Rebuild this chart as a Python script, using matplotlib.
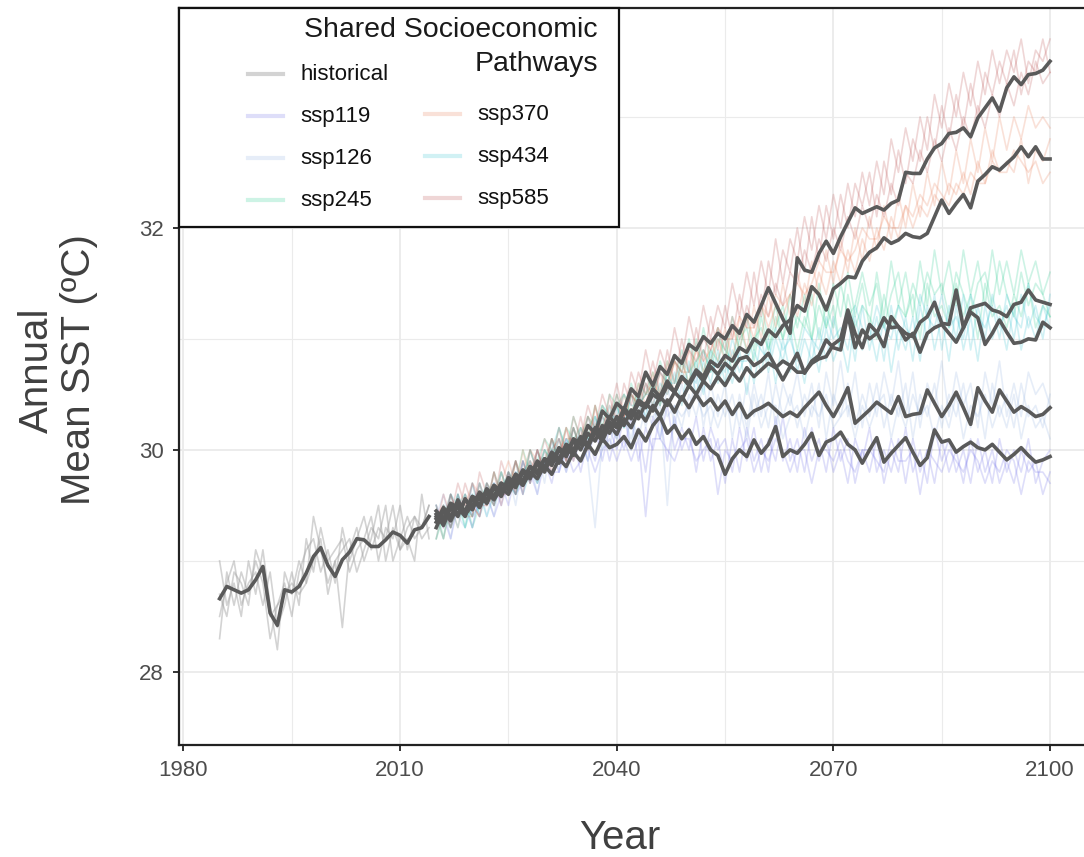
import numpy as np
import matplotlib
matplotlib.use("Agg")
from matplotlib import pyplot as plt
from matplotlib.patches import Rectangle

plt.rcParams['font.family'] = ['Liberation Sans', 'DejaVu Sans']

W, H = 1084, 857

hist_years = np.arange(1985, 2015)
ssp_years = np.arange(2015, 2101)

scenarios = ['ssp119', 'ssp126', 'ssp245', 'ssp370', 'ssp434', 'ssp585']
colors = {'historical': '#9E9E9E', 'ssp119': '#6A6AE8', 'ssp126': '#8FB0E0',
          'ssp245': '#1DC98A', 'ssp370': '#E87850', 'ssp434': '#30C0D0',
          'ssp585': '#B84848'}

# ensemble mean, historical
hist_mean = [28.66, 28.77, 28.74, 28.71, 28.74, 28.83, 28.95, 28.53, 28.42, 28.74,
             28.72, 28.77, 28.89, 29.04, 29.12, 28.96, 28.86, 29.01, 29.08, 29.20,
             29.19, 29.13, 29.13, 29.19, 29.26, 29.23, 29.16, 29.28, 29.30, 29.40]

# individual historical runs
hist_runs = [
    [28.3, 28.9, 28.6, 28.9, 28.7, 29.0, 28.8, 28.3, 28.6, 28.8, 28.5, 28.9, 29.1, 29.2, 28.9,
     29.1, 28.8, 29.3, 29.0, 29.2, 29.4, 29.1, 29.3, 29.2, 29.5, 29.1, 29.3, 29.4, 29.2, 29.3],
    [29.0, 28.6, 28.8, 28.5, 29.0, 28.7, 29.1, 28.6, 28.2, 28.9, 28.7, 29.0, 28.8, 29.4, 29.1,
     28.8, 29.0, 28.4, 29.1, 29.3, 29.0, 29.2, 29.5, 29.0, 29.3, 29.1, 29.2, 29.0, 29.6, 29.2],
    [28.5, 28.8, 29.0, 28.6, 28.8, 28.9, 28.6, 28.9, 28.4, 28.6, 28.9, 28.6, 29.2, 28.9, 29.3,
     29.0, 29.1, 29.2, 28.9, 29.1, 29.2, 29.4, 29.0, 29.3, 29.2, 29.5, 29.1, 29.4, 29.3, 29.5],
    [28.7, 28.5, 28.9, 28.8, 28.6, 29.1, 28.9, 28.5, 28.6, 28.7, 28.8, 28.7, 28.8, 29.0, 29.2,
     28.7, 29.0, 29.1, 29.2, 28.9, 29.1, 29.3, 29.2, 29.5, 29.0, 29.2, 29.4, 29.2, 29.3, 29.5],
]

# ensemble means 2015-2100
ssp_mean = {
    'ssp119': [29.38, 29.45, 29.36, 29.50, 29.44, 29.56, 29.48, 29.62, 29.55, 29.66,
               29.60, 29.74, 29.68, 29.80, 29.74, 29.86, 29.78, 29.92, 29.85, 29.98,
               29.90, 30.05, 29.96, 30.10, 30.02, 30.05, 30.12, 30.02, 30.18, 30.08,
               30.22, 30.30, 30.15, 30.22, 30.10, 30.18, 30.05, 30.12, 30.00, 29.95,
               29.78, 29.92, 30.00, 29.94, 30.09, 29.97, 30.05, 30.21, 29.94, 30.00,
               29.97, 30.05, 30.15, 29.95, 30.07, 30.10, 30.16, 30.05, 30.00, 29.88,
               30.00, 30.11, 29.89, 29.97, 30.04, 30.11, 29.98, 29.86, 29.93, 30.18,
               30.07, 30.09, 29.98, 30.03, 30.07, 30.02, 30.00, 30.05, 29.98, 29.91,
               29.96, 30.02, 29.95, 29.89, 29.91, 29.94],
    'ssp126': [29.42, 29.32, 29.48, 29.40, 29.56, 29.46, 29.60, 29.52, 29.66, 29.58,
               29.72, 29.66, 29.80, 29.74, 29.88, 29.80, 29.95, 29.88, 30.02, 29.95,
               30.10, 30.02, 30.16, 30.08, 30.22, 30.14, 30.28, 30.20, 30.35, 30.26,
               30.40, 30.30, 30.45, 30.34, 30.48, 30.38, 30.50, 30.40, 30.46, 30.36,
               30.44, 30.32, 30.42, 30.29, 30.35, 30.38, 30.42, 30.36, 30.30, 30.34,
               30.30, 30.38, 30.45, 30.52, 30.40, 30.30, 30.42, 30.56, 30.24, 30.30,
               30.36, 30.43, 30.38, 30.33, 30.48, 30.30, 30.32, 30.33, 30.54, 30.42,
               30.30, 30.40, 30.52, 30.38, 30.23, 30.56, 30.44, 30.34, 30.54, 30.44,
               30.34, 30.39, 30.35, 30.30, 30.32, 30.38],
    'ssp245': [29.40, 29.35, 29.50, 29.42, 29.55, 29.48, 29.62, 29.55, 29.68, 29.60,
               29.75, 29.70, 29.82, 29.76, 29.90, 29.84, 29.98, 29.92, 30.05, 30.00,
               30.12, 30.05, 30.20, 30.15, 30.30, 30.22, 30.38, 30.30, 30.45, 30.40,
               30.55, 30.48, 30.62, 30.52, 30.66, 30.58, 30.70, 30.62, 30.75, 30.68,
               30.78, 30.72, 30.82, 30.84, 30.76, 30.80, 30.87, 30.75, 30.63, 30.75,
               30.87, 30.69, 30.80, 30.85, 30.99, 30.92, 30.90, 31.22, 30.92, 31.08,
               31.00, 31.05, 31.19, 31.10, 31.11, 31.05, 31.02, 31.15, 31.20, 31.33,
               31.14, 31.13, 31.44, 31.10, 31.28, 31.30, 31.32, 31.26, 31.24, 31.20,
               31.31, 31.33, 31.44, 31.35, 31.33, 31.31],
    'ssp370': [29.30, 29.45, 29.38, 29.55, 29.42, 29.50, 29.60, 29.52, 29.68, 29.62,
               29.72, 29.68, 29.80, 29.75, 29.88, 29.82, 29.95, 29.90, 30.02, 29.98,
               30.10, 30.05, 30.18, 30.12, 30.25, 30.20, 30.35, 30.28, 30.42, 30.38,
               30.50, 30.45, 30.58, 30.52, 30.65, 30.60, 30.72, 30.66, 30.80, 30.75,
               30.85, 30.80, 30.92, 30.88, 31.00, 30.95, 31.08, 31.02, 31.12, 31.17,
               31.30, 31.25, 31.47, 31.40, 31.26, 31.45, 31.50, 31.56, 31.55, 31.70,
               31.78, 31.82, 31.91, 31.86, 31.89, 31.95, 31.92, 31.91, 31.95, 32.10,
               32.25, 32.13, 32.22, 32.30, 32.18, 32.42, 32.48, 32.55, 32.52, 32.58,
               32.64, 32.73, 32.64, 32.73, 32.62, 32.62],
    'ssp434': [29.35, 29.48, 29.40, 29.52, 29.45, 29.58, 29.50, 29.65, 29.58, 29.70,
               29.64, 29.78, 29.72, 29.85, 29.78, 29.92, 29.86, 30.00, 29.94, 30.08,
               30.00, 30.15, 30.08, 30.22, 30.15, 30.30, 30.22, 30.36, 30.28, 30.42,
               30.35, 30.48, 30.40, 30.52, 30.45, 30.58, 30.50, 30.62, 30.55, 30.66,
               30.58, 30.70, 30.62, 30.74, 30.66, 30.72, 30.78, 30.74, 30.80, 30.76,
               30.70, 30.70, 30.78, 30.82, 30.84, 30.95, 31.00, 31.26, 31.05, 30.92,
               31.13, 31.06, 30.93, 31.20, 31.11, 30.99, 31.05, 30.88, 31.05, 31.10,
               31.13, 31.05, 30.97, 31.10, 31.24, 31.19, 30.95, 31.05, 31.17, 31.06,
               30.96, 30.97, 31.00, 30.99, 31.15, 31.10],
    'ssp585': [29.45, 29.38, 29.52, 29.48, 29.40, 29.58, 29.55, 29.62, 29.58, 29.70,
               29.66, 29.78, 29.72, 29.85, 29.80, 29.92, 29.88, 30.02, 29.95, 30.10,
               30.05, 30.22, 30.15, 30.35, 30.28, 30.42, 30.36, 30.55, 30.48, 30.70,
               30.58, 30.75, 30.68, 30.85, 30.78, 30.95, 30.90, 31.02, 30.96, 31.05,
               31.00, 31.12, 31.05, 31.22, 31.15, 31.30, 31.46, 31.32, 31.18, 31.05,
               31.73, 31.62, 31.60, 31.77, 31.88, 31.77, 31.92, 32.05, 32.18, 32.13,
               32.16, 32.19, 32.16, 32.22, 32.25, 32.50, 32.49, 32.49, 32.62, 32.72,
               32.76, 32.85, 32.86, 32.90, 32.82, 32.99, 33.08, 33.17, 33.05, 33.26,
               33.36, 33.29, 33.38, 33.39, 33.42, 33.50],
}

# individual model runs 2015-2100
ssp_runs = {
    'ssp119': [
        [29.3, 29.5, 29.3, 29.6, 29.4, 29.6, 29.4, 29.7, 29.5, 29.7, 29.5, 29.8, 29.6, 29.9, 29.7,
         29.9, 29.7, 30.0, 29.8, 30.1, 29.8, 30.1, 29.9, 30.2, 29.9, 30.2, 30.0, 30.3, 29.9, 30.2,
         30.0, 30.3, 29.9, 30.3, 30.0, 30.2, 29.8, 30.2, 29.9, 30.1, 29.7, 30.1, 29.8, 30.2, 29.9,
         30.1, 29.8, 30.3, 29.9, 30.1, 29.8, 30.2, 29.9, 30.1, 29.8, 30.2, 29.9, 30.1, 29.7, 30.0,
         29.8, 30.1, 29.7, 30.0, 29.8, 30.2, 29.8, 30.0, 29.7, 30.2, 29.9, 30.1, 29.8, 30.0, 29.7,
         30.1, 29.8, 30.0, 29.7, 29.9, 29.7, 30.0, 29.8, 29.9, 29.6, 29.8],
        [29.5, 29.3, 29.6, 29.4, 29.6, 29.4, 29.7, 29.5, 29.7, 29.5, 29.8, 29.6, 29.9, 29.7, 29.9,
         29.8, 30.0, 29.8, 30.1, 29.9, 30.1, 29.9, 30.2, 29.9, 30.2, 30.0, 30.3, 30.0, 30.2, 29.8,
         30.3, 30.1, 30.4, 30.0, 30.2, 30.0, 30.3, 29.9, 30.2, 30.0, 30.1, 29.8, 30.2, 29.9, 30.2,
         29.8, 30.1, 29.9, 30.3, 29.9, 30.1, 29.8, 30.2, 29.9, 30.1, 29.8, 30.0, 29.7, 30.1, 29.9,
         30.2, 29.8, 30.0, 29.8, 30.1, 29.7, 30.1, 29.8, 30.0, 29.7, 30.1, 29.8, 30.0, 29.7, 30.1,
         29.8, 30.0, 29.7, 30.1, 29.8, 30.0, 29.8, 30.1, 29.7, 29.9, 30.0],
        [29.4, 29.4, 29.2, 29.5, 29.5, 29.3, 29.6, 29.6, 29.4, 29.6, 29.7, 29.6, 29.7, 29.8, 29.6,
         29.9, 29.8, 29.8, 30.0, 29.8, 29.9, 30.0, 29.8, 30.0, 30.1, 29.9, 30.1, 29.9, 30.1, 29.4,
         30.1, 30.1, 30.0, 29.9, 30.1, 30.1, 29.9, 30.0, 30.1, 29.6, 30.0, 29.9, 30.0, 30.1, 29.8,
         30.0, 29.9, 30.1, 30.0, 29.8, 30.0, 30.0, 29.7, 30.0, 30.0, 29.9, 30.1, 29.9, 29.8, 30.0,
         30.0, 29.9, 29.8, 30.1, 29.9, 29.9, 30.0, 29.6, 30.0, 29.9, 29.8, 30.0, 29.9, 29.8, 30.0,
         29.9, 29.7, 29.9, 29.8, 30.0, 29.9, 29.6, 29.9, 29.8, 29.8, 29.7],
    ],
    'ssp126': [
        [29.3, 29.5, 29.2, 29.6, 29.4, 29.5, 29.7, 29.4, 29.7, 29.6, 29.8, 29.5, 29.9, 29.7, 30.0,
         29.7, 30.1, 29.8, 30.1, 29.9, 30.2, 29.9, 30.3, 30.0, 30.3, 30.1, 30.4, 30.0, 30.5, 30.2,
         30.5, 30.1, 30.6, 30.2, 30.6, 30.3, 30.7, 30.2, 30.6, 30.3, 30.6, 30.1, 30.5, 30.2, 30.6,
         30.3, 30.7, 30.2, 30.6, 30.4, 30.7, 30.3, 30.6, 30.2, 30.7, 30.4, 30.8, 30.3, 30.7, 30.2,
         30.6, 30.3, 30.7, 30.4, 30.8, 30.3, 30.7, 30.2, 30.6, 30.4, 30.8, 30.3, 30.7, 30.4, 30.6,
         30.2, 30.7, 30.4, 30.8, 30.3, 30.6, 30.3, 30.7, 30.5, 30.6, 30.4],
        [29.5, 29.3, 29.6, 29.4, 29.3, 29.7, 29.5, 29.6, 29.4, 29.8, 29.6, 29.8, 29.7, 29.9, 29.6,
         30.0, 29.8, 30.0, 29.9, 30.2, 30.0, 30.2, 30.1, 30.3, 30.0, 30.4, 30.2, 30.3, 30.1, 30.4,
         30.2, 30.5, 30.3, 30.4, 30.2, 30.5, 30.3, 30.6, 30.2, 30.5, 30.3, 30.5, 30.2, 30.6, 30.3,
         30.5, 30.2, 30.6, 30.3, 30.5, 30.2, 30.5, 30.3, 30.6, 30.1, 30.5, 30.3, 30.6, 30.2, 30.5,
         30.3, 30.6, 30.2, 30.5, 30.3, 30.6, 30.1, 30.5, 30.3, 30.6, 30.2, 30.5, 30.3, 30.6, 30.2,
         30.5, 30.1, 30.6, 30.3, 30.5, 30.2, 30.6, 30.3, 30.4, 30.2, 30.5],
        [29.4, 29.6, 29.3, 29.5, 29.5, 29.3, 29.6, 29.5, 29.8, 29.5, 29.7, 29.6, 29.8, 29.8, 29.7,
         29.9, 29.9, 30.1, 29.8, 30.0, 30.1, 29.9, 29.3, 30.1, 30.2, 30.1, 30.3, 30.1, 30.4, 30.3,
         30.3, 30.4, 29.5, 30.4, 30.3, 30.4, 30.5, 30.3, 30.4, 30.2, 30.4, 30.3, 30.4, 30.1, 30.5,
         30.2, 30.4, 30.4, 30.1, 30.3, 30.4, 30.1, 30.4, 30.3, 30.5, 30.2, 30.3, 30.4, 30.1, 30.4,
         30.2, 30.4, 30.5, 30.1, 30.4, 30.2, 30.5, 30.3, 30.4, 30.1, 30.4, 30.2, 30.5, 30.1, 30.4,
         30.3, 30.5, 30.2, 30.4, 30.2, 30.5, 30.1, 30.4, 30.2, 30.3, 30.1],
    ],
    'ssp245': [
        [29.3, 29.5, 29.4, 29.6, 29.3, 29.6, 29.5, 29.7, 29.6, 29.8, 29.6, 29.9, 29.7, 30.0, 29.8,
         30.0, 29.9, 30.2, 30.0, 30.3, 30.1, 30.3, 30.2, 30.4, 30.3, 30.5, 30.3, 30.6, 30.4, 30.7,
         30.5, 30.8, 30.6, 30.8, 30.7, 31.0, 30.7, 31.1, 30.8, 31.1, 30.8, 31.2, 30.9, 31.2, 30.9,
         31.3, 31.0, 31.3, 31.0, 31.4, 31.1, 31.4, 31.0, 31.5, 31.1, 31.5, 31.2, 31.6, 31.2, 31.5,
         31.1, 31.6, 31.2, 31.7, 31.3, 31.6, 31.2, 31.7, 31.3, 31.8, 31.4, 31.7, 31.3, 31.8, 31.4,
         31.7, 31.3, 31.8, 31.4, 31.7, 31.4, 31.8, 31.5, 31.7, 31.4, 31.6],
        [29.5, 29.2, 29.6, 29.4, 29.5, 29.4, 29.7, 29.5, 29.8, 29.6, 29.8, 29.7, 30.0, 29.8, 29.9,
         30.1, 30.0, 30.0, 30.2, 30.1, 30.2, 30.1, 30.4, 30.2, 30.5, 30.4, 30.5, 30.3, 30.6, 30.5,
         30.7, 30.5, 30.8, 30.6, 30.9, 30.7, 30.8, 30.9, 30.7, 31.0, 30.9, 30.8, 31.1, 30.9, 31.0,
         31.1, 30.9, 31.2, 31.0, 31.2, 30.9, 31.2, 31.0, 31.3, 31.1, 31.3, 30.9, 31.4, 31.1, 31.3,
         31.2, 31.0, 31.4, 31.1, 31.3, 31.2, 31.4, 31.0, 31.5, 31.2, 31.3, 31.1, 31.5, 31.2, 31.4,
         31.0, 31.5, 31.2, 31.3, 31.1, 31.4, 31.2, 31.5, 31.1, 31.3, 31.2],
        [29.2, 29.4, 29.3, 29.5, 29.6, 29.3, 29.5, 29.6, 29.5, 29.7, 29.7, 29.6, 29.8, 29.9, 29.7,
         29.9, 30.1, 29.9, 30.0, 30.2, 30.0, 30.2, 30.3, 30.1, 30.3, 30.4, 30.2, 30.5, 30.4, 30.5,
         30.6, 30.4, 30.7, 30.5, 30.8, 30.6, 31.0, 30.7, 30.9, 30.8, 31.0, 30.7, 31.0, 31.1, 30.8,
         31.2, 30.9, 31.1, 31.3, 31.0, 31.2, 31.1, 31.4, 31.0, 31.3, 31.1, 31.5, 31.2, 31.3, 31.6,
         31.3, 31.5, 31.1, 31.4, 31.6, 31.2, 31.5, 31.3, 31.6, 31.4, 31.5, 31.2, 31.6, 31.4, 31.2,
         31.5, 31.6, 31.3, 31.7, 31.4, 31.2, 31.6, 31.3, 31.5, 31.4, 31.2],
    ],
    'ssp370': [
        [29.2, 29.5, 29.3, 29.6, 29.4, 29.4, 29.7, 29.5, 29.8, 29.5, 29.8, 29.6, 30.0, 29.7, 30.0,
         29.8, 30.1, 29.9, 30.2, 29.9, 30.2, 30.0, 30.4, 30.1, 30.3, 30.2, 30.5, 30.3, 30.6, 30.4,
         30.7, 30.4, 30.8, 30.5, 30.8, 30.6, 30.9, 30.7, 31.0, 30.8, 31.1, 30.8, 31.2, 30.9, 31.3,
         31.0, 31.4, 31.1, 31.5, 31.2, 31.6, 31.3, 31.7, 31.4, 31.8, 31.5, 31.9, 31.6, 32.0, 31.7,
         32.1, 31.8, 32.2, 31.9, 32.3, 32.0, 32.4, 32.1, 32.5, 32.2, 32.6, 32.3, 32.7, 32.4, 32.8,
         32.5, 32.9, 32.6, 33.0, 32.7, 33.0, 32.8, 33.1, 32.9, 33.0, 32.9],
        [29.4, 29.2, 29.5, 29.3, 29.6, 29.5, 29.4, 29.7, 29.5, 29.8, 29.6, 29.9, 29.7, 29.9, 29.8,
         30.0, 29.8, 30.1, 29.9, 30.2, 30.0, 30.2, 30.1, 30.4, 30.2, 30.4, 30.3, 30.5, 30.3, 30.6,
         30.4, 30.7, 30.5, 30.8, 30.6, 30.9, 30.7, 30.9, 30.8, 31.0, 30.8, 31.1, 30.9, 31.2, 31.0,
         31.3, 31.1, 31.3, 31.2, 31.4, 31.2, 31.5, 31.3, 31.6, 31.4, 31.7, 31.5, 31.8, 31.6, 31.9,
         31.7, 32.0, 31.8, 32.1, 31.9, 32.2, 32.0, 32.2, 32.1, 32.3, 32.2, 32.4, 32.3, 32.5, 32.3,
         32.6, 32.4, 32.7, 32.5, 32.6, 32.5, 32.8, 32.4, 32.7, 32.6, 32.8],
        [29.3, 29.4, 29.6, 29.4, 29.5, 29.7, 29.6, 29.5, 29.6, 29.7, 29.9, 29.7, 29.8, 30.0, 29.9,
         29.9, 30.1, 30.0, 30.1, 30.1, 30.1, 30.3, 30.2, 30.2, 30.4, 30.3, 30.3, 30.5, 30.4, 30.5,
         30.6, 30.5, 30.6, 30.8, 30.7, 30.7, 30.9, 30.8, 30.9, 31.1, 31.0, 31.0, 31.2, 31.1, 31.1,
         31.3, 31.2, 31.4, 31.3, 31.4, 31.5, 31.4, 31.5, 31.7, 31.6, 31.6, 31.8, 31.7, 31.8, 32.0,
         31.9, 31.9, 32.1, 32.0, 32.0, 32.2, 32.1, 32.3, 32.2, 32.4, 32.3, 32.2, 32.4, 32.3, 32.5,
         32.4, 32.4, 32.6, 32.5, 32.5, 32.7, 32.6, 32.5, 32.6, 32.4, 32.5],
    ],
    'ssp434': [
        [29.4, 29.2, 29.5, 29.3, 29.6, 29.4, 29.5, 29.7, 29.5, 29.8, 29.6, 29.8, 29.7, 30.0, 29.8,
         30.0, 29.9, 30.1, 29.9, 30.2, 30.0, 30.3, 30.1, 30.3, 30.2, 30.4, 30.2, 30.5, 30.3, 30.6,
         30.4, 30.6, 30.5, 30.7, 30.4, 30.8, 30.5, 30.8, 30.6, 30.9, 30.6, 30.9, 30.7, 30.9, 30.6,
         31.0, 30.7, 31.0, 30.8, 31.1, 30.7, 31.0, 30.8, 31.1, 30.8, 31.2, 30.9, 31.2, 30.8, 31.3,
         30.9, 31.2, 30.8, 31.3, 30.9, 31.2, 30.8, 31.3, 31.0, 31.4, 30.9, 31.3, 31.0, 31.4, 30.9,
         31.3, 31.0, 31.4, 31.1, 31.3, 31.0, 31.4, 31.1, 31.3, 31.0, 31.4],
        [29.2, 29.5, 29.3, 29.6, 29.4, 29.7, 29.4, 29.6, 29.7, 29.6, 29.8, 29.6, 29.9, 29.7, 30.0,
         29.8, 30.1, 29.9, 30.1, 30.0, 30.2, 30.0, 30.3, 30.1, 30.4, 30.2, 30.4, 30.3, 30.5, 30.3,
         30.6, 30.4, 30.7, 30.5, 30.7, 30.6, 30.8, 30.5, 30.9, 30.6, 30.8, 30.6, 30.9, 30.5, 30.9,
         30.7, 31.0, 30.6, 31.0, 30.7, 30.9, 30.6, 31.0, 30.7, 31.1, 30.8, 31.0, 30.7, 31.2, 30.9,
         31.1, 30.8, 31.2, 30.7, 31.1, 30.9, 31.2, 30.8, 31.3, 30.9, 31.2, 30.8, 31.3, 30.9, 31.2,
         30.8, 31.3, 31.0, 31.2, 30.9, 31.3, 30.9, 31.2, 31.0, 31.3, 31.1],
        [29.3, 29.4, 29.6, 29.5, 29.3, 29.5, 29.6, 29.4, 29.6, 29.7, 29.7, 29.9, 29.6, 29.8, 29.9,
         29.9, 30.0, 30.2, 30.0, 30.1, 30.1, 30.1, 30.2, 30.4, 30.3, 30.3, 30.5, 30.4, 30.4, 30.5,
         30.5, 30.7, 30.6, 30.6, 30.8, 30.7, 30.6, 30.9, 30.7, 30.8, 30.7, 31.0, 30.8, 30.8, 31.0,
         30.9, 30.8, 31.1, 30.9, 31.0, 30.8, 31.1, 31.0, 30.9, 31.2, 31.0, 31.1, 30.9, 31.3, 31.1,
         31.0, 31.3, 31.1, 31.0, 31.3, 31.1, 31.0, 31.4, 31.2, 31.1, 31.4, 31.1, 31.2, 31.0, 31.4,
         31.2, 31.1, 31.3, 31.0, 31.4, 31.2, 31.1, 31.5, 31.2, 31.1, 31.3],
    ],
    'ssp585': [
        [29.3, 29.6, 29.4, 29.7, 29.5, 29.4, 29.8, 29.6, 29.5, 29.9, 29.7, 29.9, 29.6, 30.0, 29.8,
         30.1, 29.9, 30.2, 29.9, 30.3, 30.1, 30.4, 30.2, 30.5, 30.3, 30.6, 30.3, 30.7, 30.5, 30.9,
         30.6, 30.9, 30.7, 31.1, 30.8, 31.2, 30.9, 31.3, 31.0, 31.3, 31.1, 31.5, 31.2, 31.6, 31.3,
         31.7, 31.4, 31.9, 31.5, 31.9, 31.7, 32.1, 31.8, 32.2, 31.9, 32.3, 32.0, 32.4, 32.1, 32.5,
         32.2, 32.6, 32.3, 32.8, 32.5, 32.9, 32.6, 33.0, 32.7, 33.2, 32.9, 33.3, 33.0, 33.4, 33.1,
         33.5, 33.2, 33.6, 33.3, 33.6, 33.4, 33.7, 33.3, 33.6, 33.5, 33.7],
        [29.5, 29.3, 29.6, 29.4, 29.7, 29.5, 29.4, 29.7, 29.6, 29.6, 29.8, 29.6, 29.9, 29.7, 30.0,
         29.8, 30.1, 29.9, 30.2, 30.0, 30.3, 30.0, 30.4, 30.1, 30.5, 30.2, 30.6, 30.4, 30.7, 30.5,
         30.8, 30.5, 30.9, 30.6, 31.0, 30.7, 31.1, 30.8, 31.2, 30.9, 31.3, 31.0, 31.4, 31.1, 31.6,
         31.2, 31.7, 31.4, 31.8, 31.6, 32.0, 31.6, 32.1, 31.7, 32.2, 31.9, 32.3, 32.0, 32.4, 32.2,
         32.5, 32.1, 32.6, 32.3, 32.7, 32.4, 32.8, 32.6, 33.0, 32.7, 33.1, 32.8, 33.2, 32.9, 33.3,
         33.0, 33.4, 33.2, 33.5, 33.3, 33.6, 33.2, 33.5, 33.4, 33.7, 33.4],
        [29.4, 29.5, 29.3, 29.5, 29.4, 29.7, 29.5, 29.5, 29.8, 29.6, 29.6, 29.9, 29.7, 29.8, 30.0,
         29.8, 30.0, 30.1, 29.9, 30.2, 30.0, 30.3, 30.1, 30.3, 30.2, 30.5, 30.3, 30.5, 30.4, 30.6,
         30.5, 30.7, 30.6, 30.8, 30.7, 30.9, 30.8, 31.0, 30.9, 31.1, 30.9, 31.2, 31.0, 31.3, 31.1,
         31.4, 31.2, 31.5, 31.3, 31.6, 31.5, 31.8, 31.6, 31.9, 31.7, 32.0, 31.8, 32.1, 31.9, 32.2,
         32.0, 32.3, 32.1, 32.4, 32.2, 32.5, 32.4, 32.7, 32.5, 32.8, 32.6, 32.9, 32.7, 33.0, 32.8,
         33.1, 32.9, 33.2, 33.0, 33.3, 33.1, 33.4, 33.2, 33.5, 33.3, 33.4],
    ],
}

fig = plt.figure(figsize=(W / 100, H / 100), dpi=100)

# panel placement in pixels (left, top, right, bottom)
L, T, R, B = 179, 8, 1084, 745
ax = fig.add_axes([L / W, 1 - B / H, (R - L) / W, (B - T) / H])
ax.set_xlim(1979.38, 2104.7)
ax.set_ylim(27.342, 33.98)

ax.set_xticks([1980, 2010, 2040, 2070, 2100])
ax.set_xticks([1995, 2025, 2055, 2085], minor=True)
ax.set_yticks([28, 30, 32])
ax.set_yticks([29, 31, 33], minor=True)
ax.grid(which='major', color='#EBEBEB', linewidth=1.3)
ax.grid(which='minor', color='#EBEBEB', linewidth=0.8)
ax.set_axisbelow(True)
ax.tick_params(which='major', direction='out', length=4, width=1.4, color='#333333',
               labelsize=16, labelcolor='#4D4D4D', pad=7)
ax.tick_params(which='minor', length=0)
for side in ['left', 'bottom', 'top']:
    ax.spines[side].set_linewidth(1.6)
    ax.spines[side].set_color('#222222')
ax.spines['right'].set_visible(False)

# individual runs
for run in hist_runs:
    ax.plot(hist_years, run, color=colors['historical'], alpha=0.45, linewidth=1.2, zorder=2)
for sc in scenarios:
    for run in ssp_runs[sc]:
        ax.plot(ssp_years, run, color=colors[sc], alpha=0.22, linewidth=1.2, zorder=2)

# ensemble means
ax.plot(hist_years, hist_mean, color='#5A5A5A', linewidth=2.6, zorder=3)
for sc in scenarios:
    ax.plot(ssp_years, ssp_mean[sc], color='#5A5A5A', linewidth=2.6, zorder=3)

# axis titles
fig.text(620 / W, 1 - 838 / H, 'Year', fontsize=29, color='#404040', ha='center', va='center')
fig.text(58 / W, 1 - 370 / H, 'Annual\nMean SST (ºC)', fontsize=29, color='#404040',
         rotation=90, ha='center', va='center', multialignment='center', linespacing=1.15)

# legend drawn in pixel space on an overlay
lg = fig.add_axes([0, 0, 1, 1], facecolor='none')
lg.set_xlim(0, W)
lg.set_ylim(H, 0)
lg.axis('off')
lg.add_patch(Rectangle((179, 8), 440, 219, facecolor='white', edgecolor='#111111', linewidth=1.6))
lg.text(598, 30, 'Shared Socioeconomic', fontsize=20.5, color='#1A1A1A', ha='right', va='center')
lg.text(598, 64, 'Pathways', fontsize=20.5, color='#1A1A1A', ha='right', va='center')

entries = ['historical'] + scenarios
key_pos = {'historical': (248, 74), 'ssp119': (248, 116), 'ssp126': (248, 158), 'ssp245': (248, 200),
           'ssp370': (425, 114), 'ssp434': (425, 156), 'ssp585': (425, 198)}
for name in entries:
    kx, ky = key_pos[name]
    a = 0.45 if name == 'historical' else 0.22
    lg.plot([kx, kx + 35], [ky, ky], color=colors[name], alpha=a, linewidth=3)
    lg.text(kx + 52, ky, name, fontsize=16, color='#111111', ha='left', va='center')

fig.savefig('out.png', dpi=100)
